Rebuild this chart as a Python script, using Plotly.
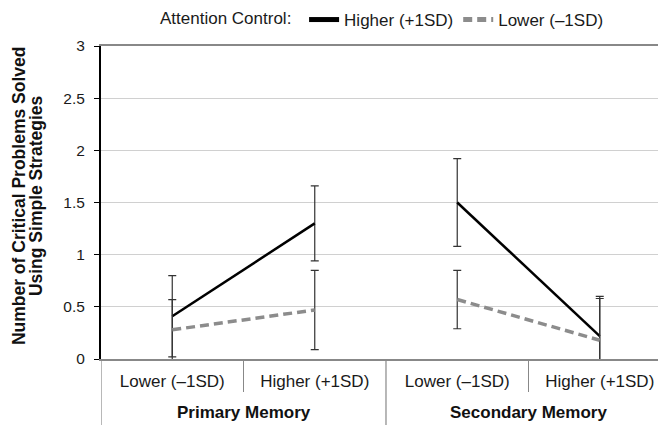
import plotly.graph_objects as go

group_labels = ["Primary Memory", "Secondary Memory"]
level_labels = ["Lower (\u20131SD)", "Higher (+1SD)", "Lower (\u20131SD)", "Higher (+1SD)"]
y_ticks = [0, 0.5, 1, 1.5, 2, 2.5, 3]

higher_vals = [0.41, 1.30, 1.50, 0.22]
higher_err = [0.39, 0.36, 0.42, 0.38]
lower_vals = [0.28, 0.47, 0.57, 0.18]
lower_err = [0.29, 0.38, 0.28, 0.40]

xpos = list(range(len(level_labels)))
ERR = dict(type="data", color="#333333", thickness=1.2, width=4)

fig = go.Figure()
for g in range(len(group_labels)):
    sl = slice(2 * g, 2 * g + 2)
    fig.add_trace(go.Scatter(
        x=xpos[sl], y=higher_vals[sl], mode="lines", name="Higher (+1SD)",
        legendgroup="hi", showlegend=(g == 0),
        line=dict(color="black", width=2.5),
        error_y=dict(array=higher_err[sl], **ERR),
    ))
for g in range(len(group_labels)):
    sl = slice(2 * g, 2 * g + 2)
    fig.add_trace(go.Scatter(
        x=xpos[sl], y=lower_vals[sl], mode="lines", name="Lower (\u20131SD)",
        legendgroup="lo", showlegend=(g == 0),
        line=dict(color="#8c8c8c", width=3.5, dash="9px,5px"),
        error_y=dict(array=lower_err[sl], **ERR),
    ))

# page body has an 8px margin: figure is placed at (8, 8)
W, H = 658, 417
ML, MT, MB = 93, 38, 66
PH = H - MT - MB
PW = W - ML

annotations = []
for g, lab in enumerate(group_labels):
    annotations.append(dict(
        text="<b>%s</b>" % lab, x=2 * g + 0.5, xref="x", y=-53 / PH, yref="paper",
        xanchor="center", yanchor="middle", showarrow=False,
        font=dict(size=17, color="#111"),
    ))
# y-axis title (two lines, tight spacing); dx = distance left of plot area
for txt, dx in [("Number of Critical Problems Solved", 82.5), ("Using Simple Strategies", 65.5)]:
    annotations.append(dict(
        text="<b>%s</b>" % txt, x=-dx / PW, xref="paper", y=0.522, yref="paper",
        xanchor="center", yanchor="middle", textangle=-90, showarrow=False,
        font=dict(size=17.5, color="#111"),
    ))

shapes = []
for xb in [-0.5, 1.5]:
    shapes.append(dict(type="line", xref="x", yref="paper", x0=xb, x1=xb,
                       y0=0, y1=-MB / PH, line=dict(color="#888888", width=1.2)))

fig.update_layout(
    width=W, height=H,
    margin=dict(l=ML, r=0, t=MT, b=MB, autoexpand=False),
    plot_bgcolor="white", paper_bgcolor="white",
    font=dict(family="Liberation Sans, Arial, sans-serif", size=17, color="#1a1a1a"),
    showlegend=True,
    legend=dict(orientation="h", x=0.5, xanchor="center", y=1 + 26 / PH, yanchor="middle",
                title=dict(text="Attention Control: ", side="left", font=dict(size=17)),
                font=dict(size=17), traceorder="normal",
                bgcolor="rgba(0,0,0,0)", itemsizing="constant"),
    annotations=annotations, shapes=shapes,
)
fig.update_xaxes(
    range=[-0.5, 3.465], tickmode="array", tickvals=xpos, ticktext=level_labels,
    showline=True, linecolor="#888888", linewidth=2, mirror=True,
    ticks="", ticklabelstandoff=6,
    minor=dict(ticks="outside", tickmode="array", tickvals=[0.5, 2.5],
               ticklen=31, tickcolor="#888888", tickwidth=1.2, showgrid=False),
    showgrid=False, zeroline=False, automargin=False,
    tickfont=dict(size=17, color="#1a1a1a"),
)
fig.update_yaxes(
    range=[0, 3], tickmode="array", tickvals=y_ticks,
    showline=True, linecolor="black", linewidth=2,
    ticks="outside", ticklen=5, tickcolor="black", ticklabelstandoff=6,
    showgrid=True, gridcolor="#d0d0d0", gridwidth=1,
    zeroline=False, automargin=False,
    tickfont=dict(size=15.5, color="#1a1a1a"),
)
fig.write_html("out.html")
